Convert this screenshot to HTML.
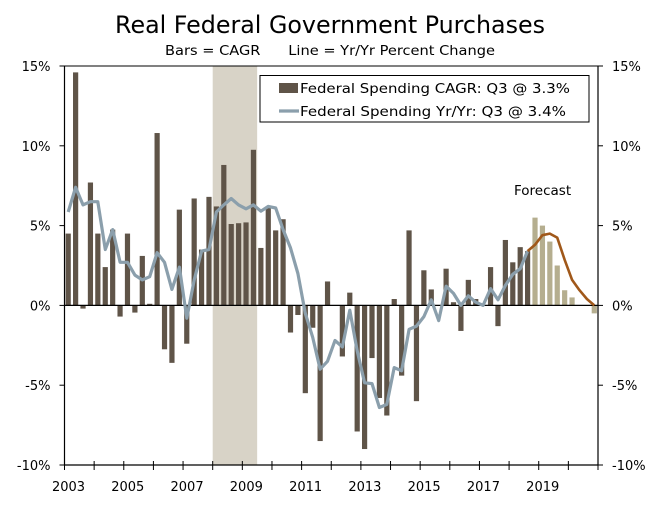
<!DOCTYPE html>
<html><head><meta charset="utf-8"><style>
body{margin:0;background:#fff;}
svg text{font-family:"DejaVu Sans","Liberation Sans",sans-serif;fill:#000;}
</style></head><body>
<svg id="chart" width="669" height="502" xmlns="http://www.w3.org/2000/svg">
<text x="330" y="33" font-size="24" text-anchor="middle" textLength="430" lengthAdjust="spacingAndGlyphs">Real Federal Government Purchases</text>
<text x="330" y="55" font-size="13.5" text-anchor="middle" textLength="330" lengthAdjust="spacingAndGlyphs" xml:space="preserve">Bars = CAGR      Line = Yr/Yr Percent Change</text>
<g id="plot"></g>
</svg>
<script>
const cagr = [4.5,14.6,-0.2,7.7,4.5,2.4,4.75,-0.7,4.5,-0.45,3.1,0.1,10.8,-2.75,-3.6,6.0,-2.4,6.7,3.5,6.8,6.2,8.8,5.1,5.15,5.2,9.75,3.6,6.1,4.7,5.4,-1.7,-0.6,-5.5,-1.4,-8.5,1.5,0,-3.2,0.8,-7.9,-9.0,-3.3,-5.8,-6.9,0.4,-4.4,4.7,-6.0,2.2,1.0,0,2.3,0.2,-1.6,1.6,0.4,0,2.4,-1.3,4.1,2.7,3.65,3.4,5.5,5.0,4.0,2.5,0.95,0.5,0,0,-0.5];
const yoy = [5.85,7.4,6.3,6.5,6.5,3.5,4.75,2.7,2.7,1.9,1.6,1.8,3.3,2.7,1.0,2.4,-0.8,1.6,3.4,3.5,5.85,6.3,6.7,6.3,6.05,6.3,5.9,6.2,6.1,4.75,3.6,2.0,-0.5,-2.0,-4.0,-3.5,-2.2,-2.6,-0.3,-2.85,-4.85,-4.9,-6.4,-6.2,-3.9,-4.1,-1.5,-1.3,-0.7,0.35,-0.95,1.2,0.75,0,0.6,0.2,0,1.05,0.35,1.25,1.95,2.3,3.4,3.8,4.4,4.5,4.25,2.85,1.6,0.95,0.4,0];
const yTicks = [15,10,5,0,-5,-10];
const yearLabels = [2003,2005,2007,2009,2011,2013,2015,2017,2019];
const lastActual = 62; // index of 2018 Q3
const startYear = 2003;
const recessionStart = 2008.0;
const recessionEnd = 2009.5;

const L=64.5, R=598, T=66, B=465, yMin=-10, yMax=15, nQ=72;
const xq = i => L + (i+0.5)*(R-L)/nQ;
const xYear = yr => L + (yr-startYear)*(R-L)/(nQ/4);
const y = v => T + (yMax-v)*(B-T)/(yMax-yMin);
const NS="http://www.w3.org/2000/svg";
const g=document.getElementById('plot');
function mk(tag,attrs,parent){const e=document.createElementNS(NS,tag);for(const k in attrs)e.setAttribute(k,attrs[k]);(parent||g).appendChild(e);return e;}

const rec=mk('rect',{x:xYear(recessionStart),y:T,width:xYear(recessionEnd)-xYear(recessionStart),height:B-T,fill:'#d8d3c7'});



cagr.forEach((v,i)=>{
  const y0=y(0), yv=y(v);
  const r=mk('rect',{x:xq(i)-2.6,y:Math.min(y0,yv),width:5.2,height:Math.abs(yv-y0),fill:i>lastActual?'#b5ae8f':'#5f5448'});
  
  
});
const z=mk('line',{x1:L,x2:R,y1:y(0),y2:y(0),stroke:'#000','stroke-width':1.2});



let pa='',pf='';
yoy.forEach((v,i)=>{ if(i<=lastActual) pa+=(i?'L':'M')+xq(i).toFixed(1)+','+y(v).toFixed(1); if(i>=lastActual) pf+=(i==lastActual?'M':'L')+xq(i).toFixed(1)+','+y(v).toFixed(1);});
const la=mk('path',{d:pa,fill:'none',stroke:'#8b9fac','stroke-width':3.2,'stroke-linejoin':'round'});


const lf=mk('path',{d:pf,fill:'none',stroke:'#a0581a','stroke-width':2.6,'stroke-linejoin':'round'});



const ax=mk('path',{d:`M${L},${T}V${B}H${R}V${T}`,fill:'none',stroke:'#000','stroke-width':1.2});


const topl=mk('line',{x1:L,x2:R,y1:T,y2:T,stroke:'#000','stroke-width':1});



yTicks.forEach(v=>{
  const tl=mk('line',{x1:L-5,x2:L,y1:y(v),y2:y(v),stroke:'#000'});
  
  
  const tr=mk('line',{x1:R,x2:R+5,y1:y(v),y2:y(v),stroke:'#000'});
  
  
  const a=mk('text',{x:L-14,y:y(v)+5,'font-size':13,'text-anchor':'end'});a.textContent=v+'%';
  
  
  const b=mk('text',{x:R+14,y:y(v)+5,'font-size':13});b.textContent=v+'%';
  
  
});
for(let yr=startYear;yr<=startYear+nQ/4;yr++){
  const t=mk('line',{x1:xYear(yr),x2:xYear(yr),y1:B-4,y2:B+5,stroke:'#000'});
  
  
}
yearLabels.forEach(yr=>{
  const t=mk('text',{x:xYear(yr)+4,y:491,'font-size':13,'text-anchor':'middle'});t.textContent=yr;
  
  
});

const fl=mk('text',{x:514,y:195,'font-size':13.5});fl.textContent='Forecast';



const lg=mk('g',{});


mk('rect',{x:260,y:75.5,width:329,height:46.5,fill:'#fff',stroke:'#000','stroke-width':1},lg);
mk('rect',{x:279,y:83,width:19,height:10,fill:'#5f5448'},lg);
mk('line',{x1:279,x2:299,y1:111,y2:111,stroke:'#8b9fac','stroke-width':3.2},lg);
const e1=mk('text',{x:300,y:93,'font-size':13.5,textLength:270,lengthAdjust:'spacingAndGlyphs'},lg);e1.textContent='Federal Spending CAGR: Q3 @ 3.3%';


const e2=mk('text',{x:300,y:116,'font-size':13.5,textLength:266,lengthAdjust:'spacingAndGlyphs'},lg);e2.textContent='Federal Spending Yr/Yr: Q3 @ 3.4%';


</script>
</body></html>
